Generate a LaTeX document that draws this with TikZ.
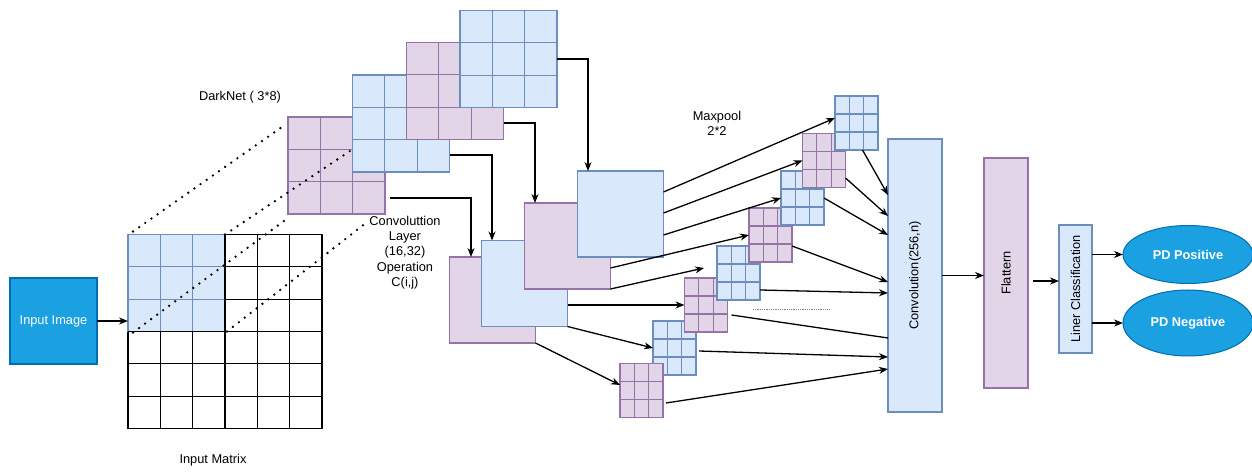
\documentclass[tikz,border=0pt]{standalone}
\usepackage{fontspec}
\setmainfont{Liberation Sans}
\usetikzlibrary{calc,arrows.meta,positioning,shapes.geometric}
\definecolor{cellblue}{HTML}{DAE8FC}
\definecolor{lineblue}{HTML}{6C8EBF}
\definecolor{cellpurple}{HTML}{E1D5E7}
\definecolor{linepurple}{HTML}{9673A6}
\definecolor{deepblue}{HTML}{1BA1E2}
\definecolor{edgeblue}{HTML}{006EAF}

\begin{document}
\begin{tikzpicture}[x=1pt,y=1pt,
     >={Stealth[length=9pt,width=7pt]},
     txt/.style={font=\fontsize{12.8}{15.2}\selectfont,align=center,inner sep=2pt},
     cells/.style 2 args={path picture={
        \foreach \k in {1,...,#1}{
          \draw[#2,line width=1.3pt] ($(path picture bounding box.south west)!\k/#1!(path picture bounding box.south east)$) -- ($(path picture bounding box.north west)!\k/#1!(path picture bounding box.north east)$);
          \draw[#2,line width=1.3pt] ($(path picture bounding box.south west)!\k/#1!(path picture bounding box.north west)$) -- ($(path picture bounding box.south east)!\k/#1!(path picture bounding box.north east)$);}}},
     bmap/.style={draw=lineblue,fill=cellblue,line width=1.3pt,inner sep=0pt,outer sep=0pt},
     pmap/.style={draw=linepurple,fill=cellpurple,line width=1.3pt,inner sep=0pt,outer sep=0pt},
     bgrid/.style={bmap,cells={3}{lineblue},minimum size=97},
     pgrid/.style={pmap,cells={3}{linepurple},minimum size=97},
     bsmall/.style={bmap,cells={3}{lineblue},minimum width=43,minimum height=54},
     psmall/.style={pmap,cells={3}{linepurple},minimum width=43,minimum height=54},
     bsq/.style={bmap,minimum size=86},
     psq/.style={pmap,minimum size=86},
     mat/.style={draw=black,fill=white,line width=1.4pt,inner sep=0pt,outer sep=0pt,cells={6}{black},minimum size=194},
     inbox/.style={draw=edgeblue,fill=deepblue,line width=1.6pt,text=white,inner sep=0pt,outer sep=0pt,
        minimum width=87,minimum height=86,font=\fontsize{12.8}{15.2}\selectfont},
     outblob/.style={ellipse,draw=edgeblue,fill=deepblue,line width=1pt,text=white,inner sep=0pt,outer sep=0pt,
        font=\fontsize{12.8}{15.2}\selectfont\bfseries},
     edg/.style={->,line width=1.3pt},
     plain/.style={line width=1.3pt},
     dots/.style={line width=2.6pt,line cap=round,dash pattern=on 0pt off 7.5pt}]
    \useasboundingbox[fill=white] (0,0) rectangle (1252,471);

    % input image and input matrix
    \node[inbox] (inimg) at (53.5,150) {Input Image};
    \node[mat]   (inmat) at (225,139.5) {};
    \node[bgrid] (win)   at (176.5,188) {};
    \draw[line width=1.4pt] (win.north east) -- (win.south east) -- (win.south west);
    \node[txt] (inmatlbl) at (213,11) {Input Matrix};
    \draw[edg] (inimg.east) -- (inimg.east -| inmat.west);

    % darknet filters
    \node[txt] (darklbl) at (240,374) {DarkNet ( 3*8)};
    \node[txt] (convlbl) at (405,218.5) {Convoluttion\\Layer\\(16,32)\\Operation\\C(i,j)};
    \node[pgrid] (pur1) at (336.5,305.5) {};
    \draw[dots] ([shift={(5,3)}]win.north west) -- ([shift={(-6,-10)}]pur1.north west);
    \draw[dots] (win.north east) -- ($(pur1.north west)+(64.5,-32.3)$);
    \draw[dots] ([shift={(5,-1)}]win.south west) -- ([yshift=-4]pur1.south west);
    \draw[dots] ([xshift=2]win.south east) -- ([yshift=-8]convlbl.north west);
    \node[bgrid] (blu2) at (401,347.5) {};
    \node[pgrid] (pur3) at (455,380) {};
    \node[bgrid] (blu4) at (508.5,412) {};

    % feature maps
    \node[psq] (bigA) at (492.5,171) {};
    \node[bsq] (bigB) at (524.5,187.5) {};
    \node[psq] (bigC) at (567.5,225) {};
    \node[bsq] (bigD) at (620.5,257) {};
    \draw[edg] ([shift={(5,16)}]pur1.south east) -| ([xshift=-21.5]bigA.north);
    \draw[edg] ([yshift=17]blu2.south east) -| ([xshift=-32.5]bigB.north);
    \draw[edg] ([yshift=16.5]pur3.south east) -| ([xshift=-32.5]bigC.north);
    \draw[edg] (blu4.east) -| ([xshift=-32.5]bigD.north);

    % maxpool outputs
    \node[txt] (poollbl) at (717,348) {Maxpool\\2*2};
    \node[bsmall] (s7) at (674.5,123) {};
    \node[psmall] (s8) at (641.5,80.5) {};
    \node[psmall] (s6) at (706,166) {};
    \node[bsmall] (s5) at (738.5,198) {};
    \node[psmall] (s4) at (770.5,236) {};
    \node[bsmall] (s3) at (802.5,273) {};
    \node[psmall] (s2) at (824,310.5) {};
    \node[bsmall] (s1) at (856.5,348) {};
    \draw[gray,densely dotted,line width=0.8pt] (753,162) -- (830,162);

    % classifier part
    \node[bmap,minimum width=54,minimum height=273] (conv) at (915,195.5) {};
    \node[txt,rotate=90] (convtxt) at (conv) {Convolution(256,n)};
    \node[pmap,minimum width=44,minimum height=230] (flat) at (1006,198) {};
    \node[txt,rotate=90] (flattxt) at (flat) {Flattern};
    \node[bmap,minimum width=33,minimum height=128] (lin) at (1075.5,182) {};
    \node[txt,rotate=90] (lintxt) at (lin) {Liner Classification};
    \node[outblob,minimum width=130,minimum height=58] (pos) at (1188,216.5) {PD Positive};
    \node[outblob,minimum width=130,minimum height=66] (neg) at (1188,148) {PD Negative};

    \draw[edg] ([yshift=22]bigD.east) -- ([yshift=5]s1.west);
    \draw[edg] ([yshift=1]bigD.east) -- (s2.west);
    \draw[edg] ([yshift=-21]bigD.east) -- (s3.west);
    \draw[edg] ([yshift=-22]bigC.east) -- (s4.west);
    \draw[edg] (bigC.south east) -- ($(s5.west)+(-13,5)$);
    \draw[edg] ([yshift=-21.5]bigB.east) -- (s6.west);
    \draw[edg] (bigB.south east) -- (s7.west);
    \draw[edg] (bigA.south east) -- ([yshift=5.5]s8.west);

    \draw[edg] ([xshift=6]s1.south) -- ([yshift=80.5]conv.west);
    \draw[edg] ([yshift=-17.5]s2.east) -- ([yshift=59.5]conv.west);
    \draw[edg] (s3.east) -- ([yshift=40.5]conv.west);
    \draw[edg] ([yshift=-11]s4.east) -- ([yshift=-6.5]conv.west);
    \draw[edg] ([yshift=-17]s5.east) -- ([yshift=-17.5]conv.west);
    \draw[plain] ([shift={(4,-10)}]s6.east) -- ([yshift=-62.5]conv.west);
    \draw[edg] ([shift={(3,-3)}]s7.east) -- ([yshift=-81.5]conv.west);
    \draw[edg] ([shift={(3,-12.5)}]s8.east) -- ([yshift=-93.5]conv.west);

    \draw[edg] (conv.east) -- (conv.east -| flat.west);
    \draw[edg] ([shift={(5,-8)}]flat.east) -- ([yshift=8]lin.west);
    \draw[edg] (lin.east |- pos.west) -- (pos.west);
    \draw[edg] (lin.east |- neg.west) -- (neg.west);
  \end{tikzpicture}
\end{document}
